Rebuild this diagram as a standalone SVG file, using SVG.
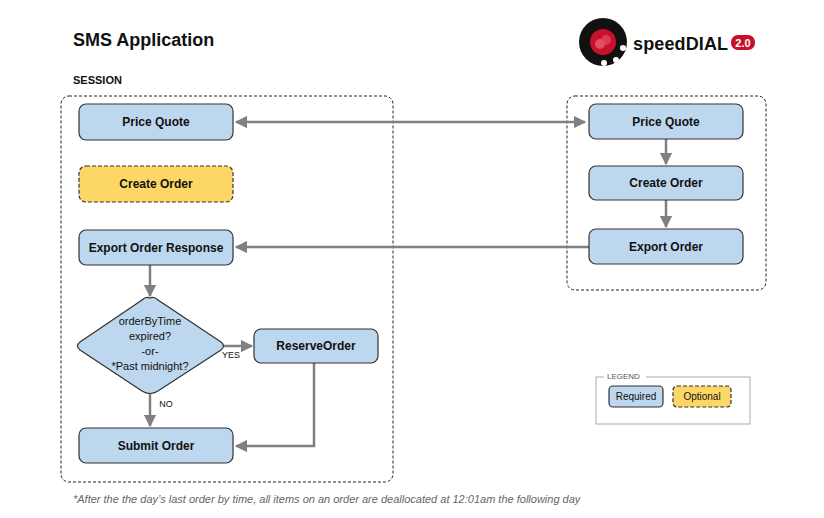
<svg xmlns="http://www.w3.org/2000/svg" width="824" height="518" viewBox="0 0 824 518">
<style>
.n{fill:#bdd7ee;stroke:#333;stroke-width:1.2}
.o{fill:#fcd766;stroke:#333;stroke-width:1.2;stroke-dasharray:4 2}
.t{font-family:"Liberation Sans",Arial,sans-serif;font-size:12px;font-weight:bold;fill:#111;text-anchor:middle}
.s{font-family:"Liberation Sans",Arial,sans-serif;font-size:11px;fill:#111;text-anchor:middle}
.g{fill:none;stroke:#222;stroke-width:1;stroke-dasharray:3 2}
.c{fill:none;stroke:#808080;stroke-width:2.5}
</style>
<defs>
<marker id="a" viewBox="0 0 10 10" refX="9" refY="5" markerWidth="5" markerHeight="5" orient="auto-start-reverse"><path d="M0 0L10 5L0 10z" fill="#808080"/></marker>
</defs>
<rect width="824" height="518" fill="#fff"/>
<text x="73" y="46" font-family="Liberation Sans,Arial,sans-serif" font-size="18" font-weight="bold" fill="#111">SMS Application</text>
<text x="73" y="84" font-family="Liberation Sans,Arial,sans-serif" font-size="11" font-weight="bold" fill="#111">SESSION</text>
<g id="logo">
<circle cx="603" cy="42" r="24" fill="#111"/>
<circle cx="603" cy="42" r="13" fill="#c8102e"/>
<circle cx="600" cy="44" r="5" fill="#e05060"/><circle cx="606" cy="40" r="5" fill="#e05060" opacity="0.7"/>
<circle cx="616" cy="60" r="3" fill="#fff"/><circle cx="623" cy="48" r="3" fill="#fff"/><circle cx="604" cy="63" r="3" fill="#fff"/>
<text x="633" y="50" font-family="Liberation Sans,Arial,sans-serif" font-size="18" font-weight="bold" fill="#111" textLength="95">speedDIAL</text>
<rect x="731" y="35" width="24" height="15" rx="7" fill="#c8102e"/>
<text x="743" y="47" font-family="Liberation Sans,Arial,sans-serif" font-size="11" font-weight="bold" fill="#fff" text-anchor="middle">2.0</text>
</g>
<rect class="g" x="61" y="96" width="332" height="386" rx="8"/>
<rect class="g" x="567" y="96" width="199" height="194" rx="8"/>
<g id="connectors">
<line class="c" x1="236" y1="122" x2="585" y2="122" marker-start="url(#a)" marker-end="url(#a)"/>
<line class="c" x1="666" y1="139" x2="666" y2="164" marker-end="url(#a)"/>
<line class="c" x1="666" y1="200" x2="666" y2="227" marker-end="url(#a)"/>
<line class="c" x1="589" y1="247" x2="236" y2="247" marker-end="url(#a)"/>
<line class="c" x1="150" y1="265" x2="150" y2="296" marker-end="url(#a)"/>
<line class="c" x1="224" y1="346" x2="252" y2="346" marker-end="url(#a)"/>
<line class="c" x1="150" y1="393" x2="150" y2="426" marker-end="url(#a)"/>
<polyline class="c" points="314,363 314,446 236,446" marker-end="url(#a)"/>
<text x="231" y="358" class="s" style="font-size:9px">YES</text>
<text x="166" y="407" class="s" style="font-size:9px">NO</text>
</g>
<g id="pq1"><rect class="n" x="79" y="104" width="154" height="36" rx="7"/><text class="t" x="156" y="126">Price Quote</text></g>
<g id="co1"><rect class="o" x="79" y="166" width="154" height="36" rx="7"/><text class="t" x="156" y="188">Create Order</text></g>
<g id="eor"><rect class="n" x="79" y="230" width="154" height="35" rx="7"/><text class="t" x="156" y="252">Export Order Response</text></g>
<g id="dec"><path class="n" d="M150 298Q154 296 158 300L221 342Q226 346 221 350L158 391Q150 396 142 391L80 350Q75 346 80 342L142 300Q146 296 150 298z"/>
<text class="s" x="150" y="325">orderByTime</text><text class="s" x="150" y="340">expired?</text><text class="s" x="150" y="355">-or-</text><text class="s" x="150" y="370">*Past midnight?</text></g>
<g id="ro"><rect class="n" x="254" y="329" width="124" height="34" rx="7"/><text class="t" x="316" y="350">ReserveOrder</text></g>
<g id="so"><rect class="n" x="79" y="428" width="154" height="35" rx="7"/><text class="t" x="156" y="450">Submit Order</text></g>
<g id="pq2"><rect class="n" x="589" y="104" width="154" height="35" rx="7"/><text class="t" x="666" y="126">Price Quote</text></g>
<g id="co2"><rect class="n" x="589" y="166" width="154" height="34" rx="7"/><text class="t" x="666" y="187">Create Order</text></g>
<g id="eo2"><rect class="n" x="589" y="229" width="154" height="35" rx="7"/><text class="t" x="666" y="251">Export Order</text></g>
<g id="legend">
<rect x="596" y="377" width="154" height="47" fill="none" stroke="#aaa"/>
<rect x="604" y="370" width="42" height="12" fill="#fff"/>
<text x="607" y="379" font-family="Liberation Sans,Arial,sans-serif" font-size="8" fill="#555">LEGEND</text>
<rect class="n" x="609" y="386" width="54" height="21" rx="4"/><text class="s" x="636" y="400" style="font-size:10px">Required</text>
<rect class="o" x="673" y="386" width="58" height="21" rx="4"/><text class="s" x="702" y="400" style="font-size:10px">Optional</text>
</g>
<text x="73" y="503" font-family="Liberation Sans,Arial,sans-serif" font-size="11" font-style="italic" fill="#666">*After the the day’s last order by time, all items on an order are deallocated at 12:01am the following day</text>
</svg>
